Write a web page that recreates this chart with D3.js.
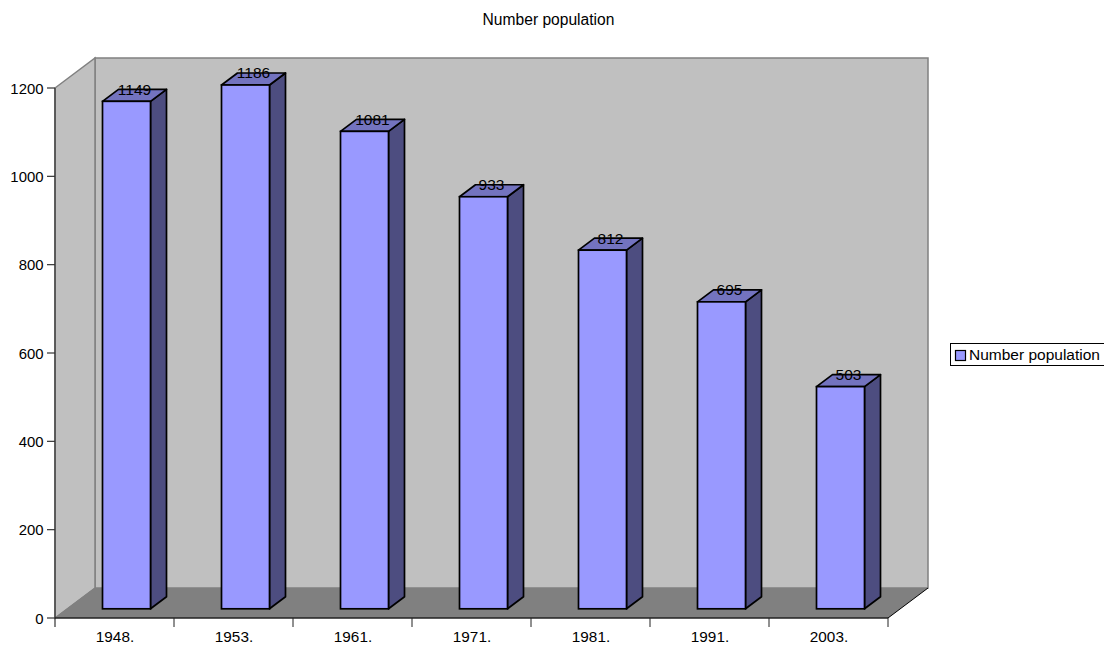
<!DOCTYPE html>
<html><head><meta charset="utf-8">
<script src="https://cdnjs.cloudflare.com/ajax/libs/d3/7.8.5/d3.min.js"></script>
<style>html,body{margin:0;padding:0;background:#fff;overflow:hidden}svg{display:block}text{font-family:"Liberation Sans",Arial,sans-serif;fill:#000}</style>
</head><body><svg id="c" width="1104" height="645"></svg>
<script>
const categories = ["1948.","1953.","1961.","1971.","1981.","1991.","2003."];
const values = [1149,1186,1081,933,812,695,503];
const yTicks = [0,200,400,600,800,1000,1200];
const seriesName = "Number population";
const titleText = "Number population";

const svg = d3.select("#c");
const x = d3.scaleBand().domain(categories).range([55,888]);
const y = d3.scaleLinear().domain([0,1200]).range([618,88]);
const depth = {dx:40, dy:-30};
const barDepth = {dx:16, dy:-12};
const barOffset = {x:47.5, width:48, y:-9.2};
const x0=55,x1=888,y0=y(0),yT=y(1200);
const poly = pts => pts.map(p=>p.join(",")).join(" ");
const fs = 15.3;

svg.append("text").attr("x",548.5).attr("y",25).attr("text-anchor","middle").attr("font-size",15.6).text(titleText);

// back wall
svg.append("polygon").attr("points",poly([[x0+depth.dx,yT+depth.dy],[x1+depth.dx,yT+depth.dy],[x1+depth.dx,y0+depth.dy],[x0+depth.dx,y0+depth.dy]]))
 .attr("fill","#c0c0c0").attr("stroke","#808080").attr("stroke-width",1.5);
// side wall
svg.append("polygon").attr("points",poly([[x0,yT],[x0+depth.dx,yT+depth.dy],[x0+depth.dx,y0+depth.dy],[x0,y0]]))
 .attr("fill","#c0c0c0").attr("stroke","#808080").attr("stroke-width",1.5);
// floor
svg.append("polygon").attr("points",poly([[x0,y0],[x0+depth.dx,y0+depth.dy],[x1+depth.dx,y0+depth.dy],[x1,y0]]))
 .attr("fill","#808080").attr("stroke","none");
svg.append("line").attr("x1",x1).attr("y1",y0).attr("x2",x1+depth.dx).attr("y2",y0+depth.dy).attr("stroke","#000").attr("stroke-width",1);
svg.append("line").attr("x1",x0).attr("y1",y0).attr("x2",x0+depth.dx).attr("y2",y0+depth.dy).attr("stroke","#808080").attr("stroke-width",1);

// axes
svg.append("line").attr("x1",x0).attr("x2",x0).attr("y1",yT).attr("y2",y0+9).attr("stroke","#333").attr("stroke-width",1.2);
svg.append("line").attr("x1",x0).attr("x2",x1).attr("y1",y0).attr("y2",y0).attr("stroke","#222").attr("stroke-width",1.5);
yTicks.forEach(t=>{
  svg.append("line").attr("x1",x0-8).attr("x2",x0).attr("y1",y(t)).attr("y2",y(t)).attr("stroke","#333").attr("stroke-width",1.2);
  svg.append("text").attr("x",x0-11.5).attr("y",y(t)+5.5).attr("text-anchor","end").attr("font-size",14.9).text(t);
});
categories.forEach((c,i)=>{
  const tx=x(c)+x.bandwidth();
  svg.append("line").attr("x1",tx).attr("x2",tx).attr("y1",y0).attr("y2",y0+9).attr("stroke","#222").attr("stroke-width",1);
  svg.append("text").attr("x",x(c)+x.bandwidth()/2+0.5).attr("y",641.5).attr("text-anchor","middle").attr("font-size",fs).text(c);
});

// bars
const g = svg.selectAll("g.bar").data(values).enter().append("g").attr("class","bar");
const L=(d,i)=>x(categories[i])+barOffset.x, R=(d,i)=>L(d,i)+barOffset.width;
const B=()=>y(0)+barOffset.y, T=d=>y(d)+barOffset.y;
const sw=1.7;
g.append("polygon").attr("points",(d,i)=>poly([[R(d,i),T(d)],[R(d,i)+barDepth.dx,T(d)+barDepth.dy],[R(d,i)+barDepth.dx,B()+barDepth.dy],[R(d,i),B()]]))
 .attr("fill","#4d4d80").attr("stroke","#000").attr("stroke-width",sw).attr("stroke-linejoin","round");
g.append("polygon").attr("points",(d,i)=>poly([[L(d,i),T(d)],[L(d,i)+barDepth.dx,T(d)+barDepth.dy],[R(d,i)+barDepth.dx,T(d)+barDepth.dy],[R(d,i),T(d)]]))
 .attr("fill","#7373bf").attr("stroke","#000").attr("stroke-width",sw).attr("stroke-linejoin","round");
g.append("rect").attr("x",L).attr("y",d=>T(d)).attr("width",barOffset.width).attr("height",d=>B()-T(d))
 .attr("fill","#9999ff").attr("stroke","#000").attr("stroke-width",sw);
g.append("text").attr("x",(d,i)=>L(d,i)+32).attr("y",d=>T(d)-6.5).attr("text-anchor","middle").attr("font-size",15.5).text(d=>d);

// legend
const lg = svg.append("g");
lg.append("rect").attr("x",950.5).attr("y",343.5).attr("width",165).attr("height",22).attr("fill","#fff").attr("stroke","#000").attr("stroke-width",1);
lg.append("rect").attr("x",955.5).attr("y",350.5).attr("width",10).attr("height",10).attr("fill","#9999ff").attr("stroke","#000").attr("stroke-width",1.2);
lg.append("text").attr("x",969).attr("y",360).attr("font-size",15.5).text(seriesName);
</script></body></html>
